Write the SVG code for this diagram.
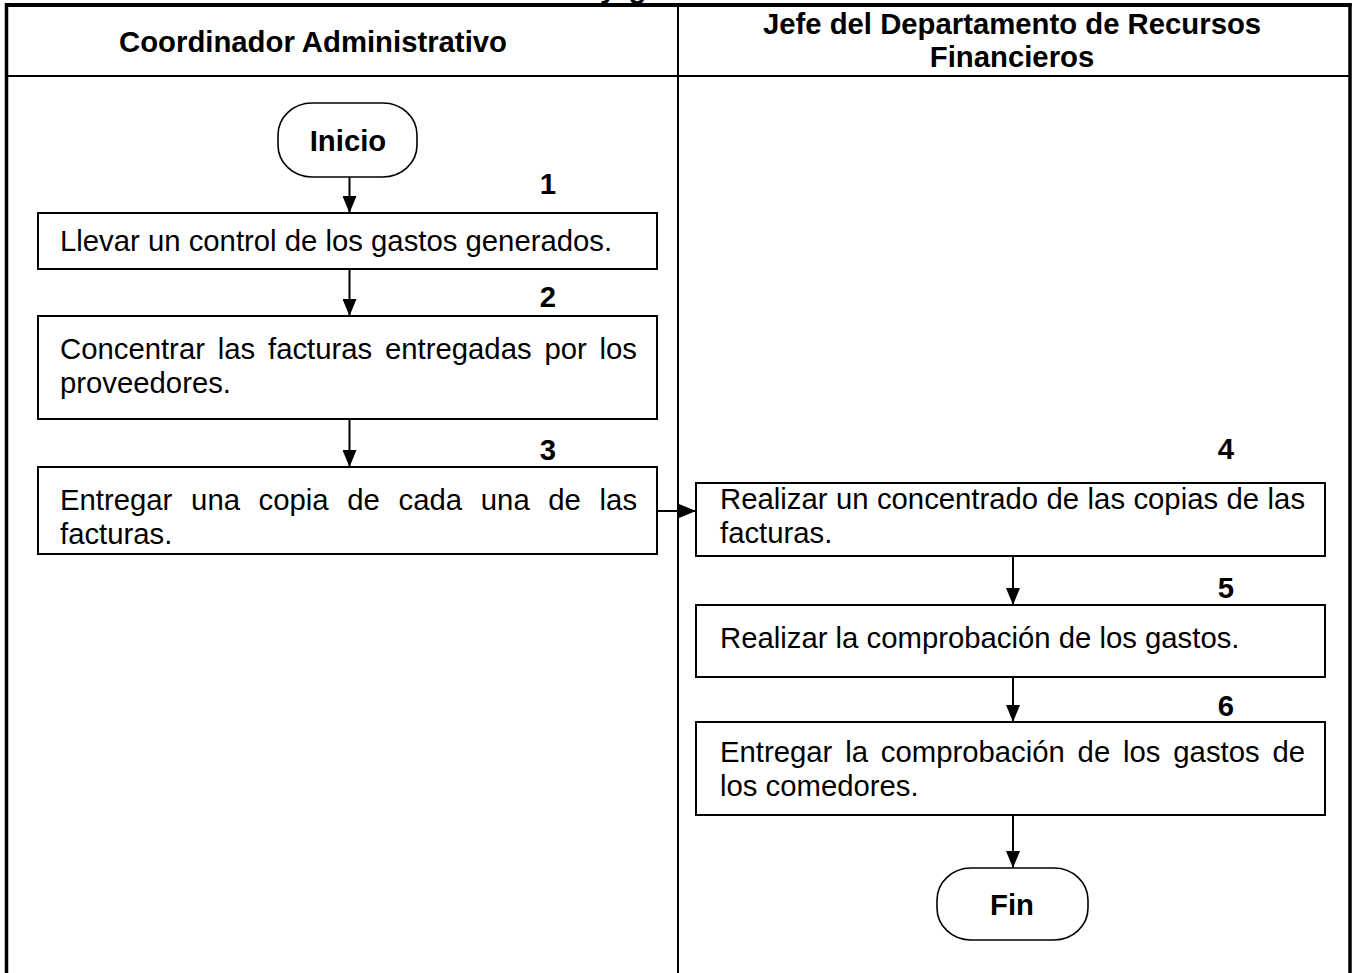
<svg xmlns="http://www.w3.org/2000/svg" width="1352" height="973" viewBox="0 0 1352 973">
<defs>
<marker id="ah" markerWidth="18" markerHeight="14" refX="17" refY="7" orient="auto" markerUnits="userSpaceOnUse">
<path d="M0,0 L17,7 L0,14 z" fill="#000"/>
</marker>
<style>
.t{font-family:"Liberation Sans",Arial,sans-serif;font-size:29.3px;fill:#000}
.b{font-family:"Liberation Sans",Arial,sans-serif;font-size:29.3px;font-weight:bold;fill:#000}
.box{fill:#fff;stroke:#000;stroke-width:2}
.term{fill:#fff;stroke:#000;stroke-width:1.6}
.edge{stroke:#000;stroke-width:2;fill:none}
.frame{stroke:#000;fill:none}
</style>
</defs>
<rect width="1352" height="973" fill="#fff"/>
<g id="frame">
<text class="b" x="600" y="-2" word-spacing="4">y g</text>
<line class="frame" x1="5" y1="5" x2="1351.5" y2="5" stroke-width="4"/>
<line class="frame" x1="6.5" y1="3" x2="6.5" y2="973" stroke-width="3.5"/>
<line class="frame" x1="1350" y1="3" x2="1350" y2="973" stroke-width="3.5"/>
<line class="frame" x1="6.5" y1="76" x2="1350" y2="76" stroke-width="2"/>
<line class="frame" x1="678" y1="5" x2="678" y2="973" stroke-width="2"/>
</g>
<g id="lane-headers">
<text class="b" x="313" y="52" text-anchor="middle">Coordinador Administrativo</text>
<text class="b" x="1012" y="34" text-anchor="middle">Jefe del Departamento de Recursos</text>
<text class="b" x="1012" y="67" text-anchor="middle">Financieros</text>
</g>
<g id="connectors">
<line class="edge" x1="349.5" y1="177" x2="349.5" y2="213" marker-end="url(#ah)"/>
<line class="edge" x1="349.5" y1="269" x2="349.5" y2="316" marker-end="url(#ah)"/>
<line class="edge" x1="349.5" y1="419" x2="349.5" y2="467" marker-end="url(#ah)"/>
<line class="edge" x1="657" y1="511" x2="696" y2="511" marker-end="url(#ah)"/>
<line class="edge" x1="1013" y1="556" x2="1013" y2="605" marker-end="url(#ah)"/>
<line class="edge" x1="1013" y1="677" x2="1013" y2="722" marker-end="url(#ah)"/>
<line class="edge" x1="1013" y1="815" x2="1013" y2="868" marker-end="url(#ah)"/>
</g>
<g id="inicio">
<rect class="term" x="278" y="103" width="139" height="74" rx="34" ry="32"/>
<text class="b" x="348" y="151" text-anchor="middle">Inicio</text>
</g>
<g id="step1">
<text class="b" x="548" y="194" text-anchor="middle">1</text>
<rect class="box" x="38" y="213" width="619" height="56"/>
<text class="t" x="60" y="251">Llevar un control de los gastos generados.</text>
</g>
<g id="step2">
<text class="b" x="548" y="307" text-anchor="middle">2</text>
<rect class="box" x="38" y="316" width="619" height="103"/>
<text class="t" y="359"><tspan x="60">Concentrar</tspan><tspan x="217.7">las</tspan><tspan x="268">facturas</tspan><tspan x="385">entregadas</tspan><tspan x="544.4">por</tspan><tspan x="599.5">los</tspan></text>
<text class="t" x="60" y="393">proveedores.</text>
</g>
<g id="step3">
<text class="b" x="548" y="460" text-anchor="middle">3</text>
<rect class="box" x="38" y="467" width="619" height="87"/>
<text class="t" y="510"><tspan x="60">Entregar</tspan><tspan x="191.1">una</tspan><tspan x="258.6">copia</tspan><tspan x="347.3">de</tspan><tspan x="398.6">cada</tspan><tspan x="480.8">una</tspan><tspan x="548.3">de</tspan><tspan x="599.6">las</tspan></text>
<text class="t" x="60" y="544">facturas.</text>
</g>
<g id="step4">
<text class="b" x="1226" y="459" text-anchor="middle">4</text>
<rect class="box" x="696" y="483" width="629" height="73"/>
<text class="t" y="509"><tspan x="720">Realizar</tspan><tspan x="835.9">un</tspan><tspan x="876.9">concentrado</tspan><tspan x="1046.5">de</tspan><tspan x="1087.6">las</tspan><tspan x="1133.4">copias</tspan><tspan x="1226.5">de</tspan><tspan x="1267.6">las</tspan></text>
<text class="t" x="720" y="543">facturas.</text>
</g>
<g id="step5">
<text class="b" x="1226" y="598" text-anchor="middle">5</text>
<rect class="box" x="696" y="605" width="629" height="72"/>
<text class="t" x="720" y="648">Realizar la comprobación de los gastos.</text>
</g>
<g id="step6">
<text class="b" x="1226" y="716" text-anchor="middle">6</text>
<rect class="box" x="696" y="722" width="629" height="93"/>
<text class="t" y="762"><tspan x="720">Entregar</tspan><tspan x="845.2">la</tspan><tspan x="880.8">comprobación</tspan><tspan x="1077.6">de</tspan><tspan x="1123">los</tspan><tspan x="1173.3">gastos</tspan><tspan x="1272.4">de</tspan></text>
<text class="t" x="720" y="796">los comedores.</text>
</g>
<g id="fin">
<rect class="term" x="937" y="868" width="151" height="72" rx="34" ry="32"/>
<text class="b" x="1012" y="915" text-anchor="middle">Fin</text>
</g>
</svg>
